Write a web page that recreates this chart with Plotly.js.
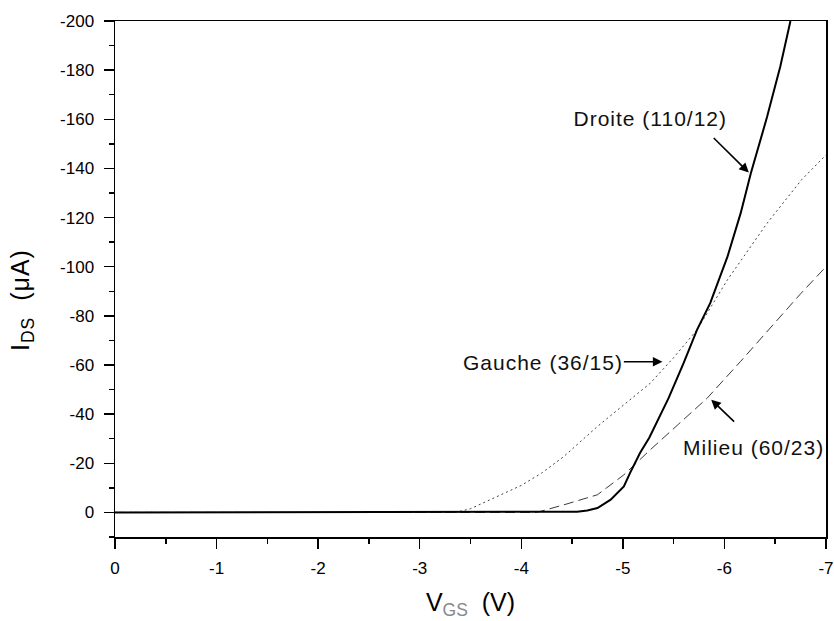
<!DOCTYPE html>
<html>
<head>
<meta charset="utf-8">
<script src="https://cdn.plot.ly/plotly-3.0.1.min.js"></script>
<style>
html,body{margin:0;padding:0;background:#fff;}
#chart{width:834px;height:621px;}
#chart .annotation-text{letter-spacing:1px;}
</style>
</head>
<body>
<div id="chart"></div>
<script>
// V_GS (V)
const droiteX = [0, -1, -2, -3, -4, -4.4, -4.55, -4.65, -4.75, -4.88, -5.01, -5.07, -5.17, -5.26, -5.45, -5.6, -5.73, -5.86, -6.03, -6.16, -6.26, -6.42, -6.55, -6.65];
const droiteY = [0, 0, 0, 0, 0, 0, -0.3, -0.8, -1.8, -5.2, -10.6, -16, -24.3, -30.4, -46.5, -61, -74.3, -85.2, -104.1, -121.8, -138, -161, -181.5, -200];

const gaucheX = [0, -1, -2, -3, -3.35, -3.5, -3.76, -4.0, -4.2, -4.42, -4.75, -5.07, -5.27, -5.5, -5.73, -6.03, -6.42, -6.76, -7];
const gaucheY = [0, 0, 0, 0, 0, -1.5, -6.5, -11, -16, -22.8, -35, -45.9, -52.6, -63, -74.3, -94.7, -117.7, -135.4, -145.5];

const milieuX = [0, -1, -2, -3, -4, -4.15, -4.42, -4.75, -5.01, -5.27, -5.55, -5.83, -6.16, -6.45, -6.75, -7];
const milieuY = [0, 0, 0, 0, 0, 0, -3.1, -7.2, -15.3, -25.5, -36, -46.5, -61.5, -75, -89, -100];

const xTickVals = [0, -1, -2, -3, -4, -5, -6, -7];
const xTickText = ['0', '-1', '-2', '-3', '-4', '-5', '-6', '-7'];
const yTickVals = [0, -20, -40, -60, -80, -100, -120, -140, -160, -180, -200];
const yTickText = ['0', '-20', '-40', '-60', '-80', '-100', '-120', '-140', '-160', '-180', '-200'];

const FONT = 'Liberation Sans, Arial, sans-serif';

const traces = [
  {x: milieuX, y: milieuY, mode: 'lines', line: {color: '#3a3a3a', width: 1, dash: '10px,5px'}, name: 'Milieu (60/23)'},
  {x: gaucheX, y: gaucheY, mode: 'lines', line: {color: '#444', width: 1, dash: '2px,3px'}, name: 'Gauche (36/15)'},
  {x: droiteX, y: droiteY, mode: 'lines', line: {color: '#000', width: 2}, name: 'Droite (110/12)'}
];

const annFont = {family: FONT, size: 21, color: '#111'};
const arrowStyle = {xref: 'x', yref: 'y', axref: 'x', ayref: 'y', showarrow: true, arrowhead: 2, arrowsize: 1.2, arrowwidth: 1.6, arrowcolor: '#000', standoff: 0};
const layout = {
  width: 834, height: 621,
  margin: {l: 114.5, r: 8.3, t: 21, b: 83.7},
  paper_bgcolor: '#fff', plot_bgcolor: '#fff',
  showlegend: false,
  font: {family: FONT, color: '#000'},
  xaxis: {
    range: [0, -7], tickmode: 'array', tickvals: xTickVals, ticktext: xTickText,
    ticks: 'outside', ticklen: 10, tickwidth: 1.5, tickcolor: '#000',
    showline: true, linecolor: '#000', linewidth: 1.5, mirror: true,
    showgrid: false, zeroline: false,
    tickfont: {family: FONT, size: 17, color: '#000'},
    ticklabelstandoff: 5,
    minor: {tickmode: 'linear', tick0: 0, dtick: 0.5, ticks: 'outside', ticklen: 5, tickwidth: 1.5, tickcolor: '#000', showgrid: false},
    title: {text: 'V<sub><span style="color:#888">GS</span></sub>  (V)', font: {family: FONT, size: 25, color: '#000'}, standoff: 16}
  },
  yaxis: {
    range: [10, -200], tickmode: 'array', tickvals: yTickVals, ticktext: yTickText,
    ticks: 'outside', ticklen: 10, tickwidth: 1.5, tickcolor: '#000',
    showline: true, linecolor: '#000', linewidth: 1.5, mirror: true,
    showgrid: false, zeroline: false,
    tickfont: {family: FONT, size: 17, color: '#000'},
    ticklabelstandoff: 6,
    minor: {tickmode: 'linear', tick0: 0, dtick: 10, ticks: 'outside', ticklen: 5, tickwidth: 1.5, tickcolor: '#000', showgrid: false}
  },
  annotations: [
    {xref: 'paper', yref: 'paper', x: -0.131, y: 0.46, xanchor: 'center', yanchor: 'middle', textangle: -90,
     text: 'I<sub>DS</sub>  (μA)', showarrow: false, font: {family: FONT, size: 25, color: '#000'}},
    {x: -5.27, y: -160.5, xref: 'x', yref: 'y', text: 'Droite (110/12)', showarrow: false, font: annFont},
    {x: -4.21, y: -61.2, xref: 'x', yref: 'y', text: 'Gauche (36/15)', showarrow: false, font: annFont},
    {x: -6.29, y: -26.6, xref: 'x', yref: 'y', text: 'Milieu (60/23)', showarrow: false, font: annFont},
    Object.assign({x: -6.24, y: -138.3, ax: -5.88, ay: -153, text: ''}, arrowStyle),
    Object.assign({x: -5.39, y: -61.3, ax: -4.995, ay: -61.3, text: ''}, arrowStyle),
    Object.assign({x: -5.87, y: -45.9, ax: -6.11, ay: -36.4, text: ''}, arrowStyle)
  ]
};

Plotly.newPlot('chart', traces, layout, {staticPlot: true, displayModeBar: false});
</script>
</body>
</html>
